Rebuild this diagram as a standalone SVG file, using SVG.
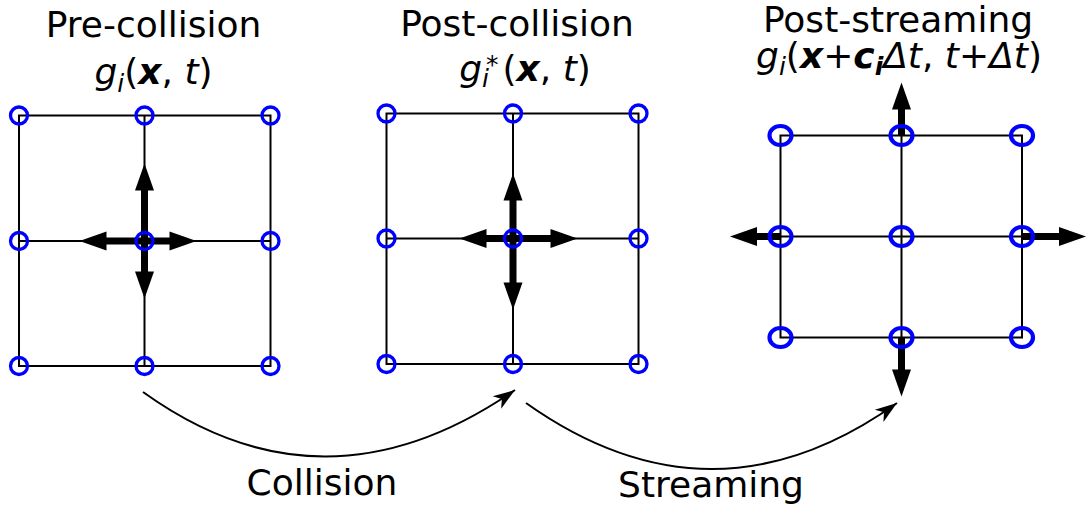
<svg xmlns="http://www.w3.org/2000/svg" width="1089" height="511" viewBox="0 0 1089 511">
<style>
text{font-family:"DejaVu Sans","Liberation Sans",sans-serif;font-size:36px;fill:#000}
.it{font-style:italic}
.bi{font-style:italic;font-weight:bold}
.sub{font-size:25px}
.grid{fill:none;stroke:#000;stroke-width:2}
.node{fill:none;stroke:#0000ff;stroke-width:3.3}
.node3{fill:none;stroke:#0000ff;stroke-width:4.2}
.vel{stroke:#000;stroke-width:7;fill:none;marker-end:url(#big)}
.flow{fill:none;stroke:#000;stroke-width:2;marker-end:url(#small)}
</style>
<defs>
<marker id="big" markerUnits="userSpaceOnUse" viewBox="0 0 27 19" markerWidth="27" markerHeight="19" refX="0.5" refY="9.5" orient="auto" overflow="visible">
<path d="M0,0 L27,9.5 L0,19 z" fill="#000"/>
</marker>
<marker id="small" markerUnits="userSpaceOnUse" viewBox="0 0 22 15" markerWidth="22" markerHeight="15" refX="22" refY="7.5" orient="auto" overflow="visible">
<path d="M0,0 L22,7.5 L0,15 L6,7.5 z" fill="#000"/>
</marker>
</defs>
<rect width="1089" height="511" fill="#fff"/>

<g id="pre-collision">
<text x="153.5" y="37" text-anchor="middle">Pre-collision</text>
<text x="153.5" y="84" text-anchor="middle"><tspan class="it">g</tspan><tspan class="it sub" dy="8">i</tspan><tspan dy="-8">(</tspan><tspan class="bi">x</tspan>, <tspan class="it">t</tspan>)</text>
<rect class="grid" x="19" y="115.5" width="251.5" height="250.5"/>
<path class="grid" d="M144.5,115.5 V366 M19,241 H270.5"/>
<line class="vel" x1="144.5" y1="241" x2="144.5" y2="190"/>
<line class="vel" x1="144.5" y1="241" x2="144.5" y2="272"/>
<line class="vel" x1="144.5" y1="241" x2="106" y2="241"/>
<line class="vel" x1="144.5" y1="241" x2="170" y2="241"/>
<circle class="node" cx="19" cy="115.5" r="8.5"/>
<circle class="node" cx="144.5" cy="115.5" r="8.5"/>
<circle class="node" cx="270.5" cy="115.5" r="8.5"/>
<circle class="node" cx="19" cy="241" r="8.5"/>
<circle class="node" cx="144.5" cy="241" r="8.5"/>
<circle class="node" cx="270.5" cy="241" r="8.5"/>
<circle class="node" cx="19" cy="366" r="8.5"/>
<circle class="node" cx="144.5" cy="366" r="8.5"/>
<circle class="node" cx="270.5" cy="366" r="8.5"/>
</g>

<g id="post-collision">
<text x="517" y="36" text-anchor="middle">Post-collision</text>
<text x="525" y="81" text-anchor="middle"><tspan class="it">g</tspan><tspan class="it sub" dy="6">i</tspan><tspan class="sub" dx="-3" dy="-14">*</tspan><tspan dx="4" dy="8">(</tspan><tspan class="bi">x</tspan>, <tspan class="it">t</tspan>)</text>
<rect class="grid" x="386.5" y="113.5" width="252" height="250.5"/>
<path class="grid" d="M513,113.5 V364 M386.5,238.5 H638.5"/>
<line class="vel" x1="513" y1="238.5" x2="513" y2="200"/>
<line class="vel" x1="513" y1="238.5" x2="513" y2="283"/>
<line class="vel" x1="513" y1="238.5" x2="486" y2="238.5"/>
<line class="vel" x1="513" y1="238.5" x2="551" y2="238.5"/>
<circle class="node" cx="386.5" cy="113.5" r="8.5"/>
<circle class="node" cx="513" cy="113.5" r="8.5"/>
<circle class="node" cx="638.5" cy="113.5" r="8.5"/>
<circle class="node" cx="386.5" cy="238.5" r="8.5"/>
<circle class="node" cx="513" cy="238.5" r="8.5"/>
<circle class="node" cx="638.5" cy="238.5" r="8.5"/>
<circle class="node" cx="386.5" cy="364" r="8.5"/>
<circle class="node" cx="513" cy="364" r="8.5"/>
<circle class="node" cx="638.5" cy="364" r="8.5"/>
</g>

<g id="post-streaming">
<text x="898" y="32" text-anchor="middle">Post-streaming</text>
<text x="899" y="68" text-anchor="middle"><tspan class="it">g</tspan><tspan class="it sub" dy="7">i</tspan><tspan dy="-7">(</tspan><tspan class="bi">x</tspan>+<tspan class="bi">c</tspan><tspan class="bi sub" dy="7">i</tspan><tspan class="it" dy="-7">Δt</tspan>, <tspan class="it">t</tspan>+<tspan class="it">Δt</tspan>)</text>
<rect class="grid" x="780.5" y="135.5" width="241.5" height="202"/>
<path class="grid" d="M901.5,135.5 V337.5 M780.5,236.5 H1022"/>
<line class="vel" x1="901.5" y1="136" x2="901.5" y2="109"/>
<line class="vel" x1="901.5" y1="337.5" x2="901.5" y2="370"/>
<line class="vel" x1="780.5" y1="236.5" x2="756.5" y2="236.5"/>
<line class="vel" x1="1022" y1="236.5" x2="1059.5" y2="236.5"/>
<ellipse class="node3" cx="780.5" cy="135.5" rx="11" ry="9.5"/>
<ellipse class="node3" cx="901.5" cy="135.5" rx="11" ry="9.5"/>
<ellipse class="node3" cx="1022" cy="135.5" rx="11" ry="9.5"/>
<ellipse class="node3" cx="780.5" cy="236.5" rx="11" ry="9.5"/>
<ellipse class="node3" cx="901.5" cy="236.5" rx="11" ry="9.5"/>
<ellipse class="node3" cx="1022" cy="236.5" rx="11" ry="9.5"/>
<ellipse class="node3" cx="780.5" cy="337.5" rx="11" ry="9.5"/>
<ellipse class="node3" cx="901.5" cy="337.5" rx="11" ry="9.5"/>
<ellipse class="node3" cx="1022" cy="337.5" rx="11" ry="9.5"/>
</g>

<g id="connectors">
<path class="flow" d="M143,392 Q324,522 515,390"/>
<path class="flow" d="M526,403 Q712,535 897,403"/>
<text x="322" y="495" text-anchor="middle">Collision</text>
<text x="711" y="497" text-anchor="middle">Streaming</text>
</g>
</svg>
